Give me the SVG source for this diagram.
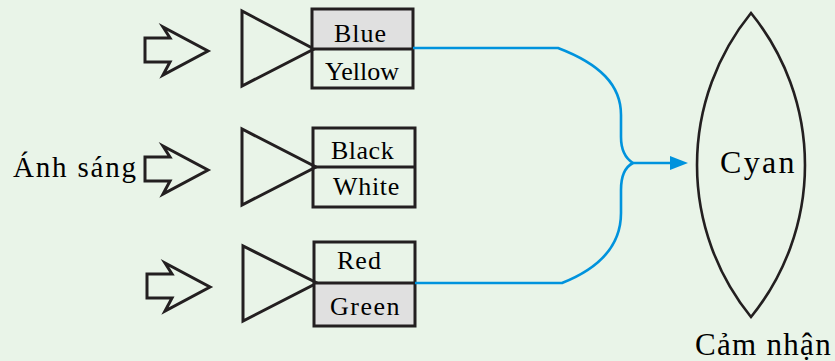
<svg xmlns="http://www.w3.org/2000/svg" width="835" height="361" viewBox="0 0 835 361">
<defs>
<polygon id="arr" fill="none" stroke="#231f20" stroke-width="3" points="-63,-13 -38,-13 -45,-24 0,0 -45,24 -38,11 -63,11"/>
</defs>
<rect width="835" height="361" fill="#e9f4e8"/>

<g id="light-label">
<text x="13" y="177" font-family="'Liberation Serif'" font-size="29" letter-spacing="1.8">Ánh sáng</text>
</g>

<g id="row1" fill="none" stroke="#231f20" stroke-width="3">
<use href="#arr" x="208" y="51"/>
<polygon points="242,11 242,86 314,49"/>
<rect x="312" y="9" width="101" height="40" fill="#e0e0e0" stroke="none"/>
<rect x="312" y="9" width="101" height="79"/>
<line x1="312" y1="49" x2="413" y2="49"/>
</g>
<text x="334" y="42" font-family="'Liberation Serif'" font-size="26" letter-spacing="1">Blue</text>
<text x="325" y="80" font-family="'Liberation Serif'" font-size="26">Yellow</text>

<g id="row2" fill="none" stroke="#231f20" stroke-width="3">
<use href="#arr" x="208" y="170"/>
<polygon points="242,129 242,205 316,167"/>
<rect x="313" y="128" width="102" height="79"/>
<line x1="313" y1="167" x2="415" y2="167"/>
</g>
<text x="331" y="159" font-family="'Liberation Serif'" font-size="26" letter-spacing="0.5">Black</text>
<text x="333" y="195" font-family="'Liberation Serif'" font-size="26" letter-spacing="0.7">White</text>

<g id="row3" fill="none" stroke="#231f20" stroke-width="3">
<use href="#arr" x="210" y="287"/>
<polygon points="243,246 243,321 317,283"/>
<rect x="314" y="283" width="101" height="43" fill="#e0e0e0" stroke="none"/>
<rect x="314" y="242" width="101" height="84"/>
<line x1="314" y1="283" x2="415" y2="283"/>
</g>
<text x="337" y="269" font-family="'Liberation Serif'" font-size="26" letter-spacing="1">Red</text>
<text x="330" y="315" font-family="'Liberation Serif'" font-size="26" letter-spacing="1.5">Green</text>

<g id="connectors" fill="none" stroke="#0093dd" stroke-width="2.6">
<path d="M413,48 H558 C600,64 621,85 621,115 V137 C621,150 625,158 633,163"/>
<path d="M415,283 H562 C600,268 621,245 621,213 V190 C621,175 625,167 633,163"/>
<path d="M633,163 H672"/>
<polygon points="670,156 688,163 670,170" fill="#0093dd" stroke="none"/>
</g>

<g id="perception">
<path d="M751,13 A241,241 0 0 0 751,317 A241,241 0 0 0 751,13 Z" fill="none" stroke="#231f20" stroke-width="2.6"/>
</g>
<text x="720" y="173" font-family="'Liberation Serif'" font-size="32" letter-spacing="2.3">Cyan</text>
<text x="695" y="355" font-family="'Liberation Serif'" font-size="31" letter-spacing="1.3">Cảm nhận</text>
</svg>
